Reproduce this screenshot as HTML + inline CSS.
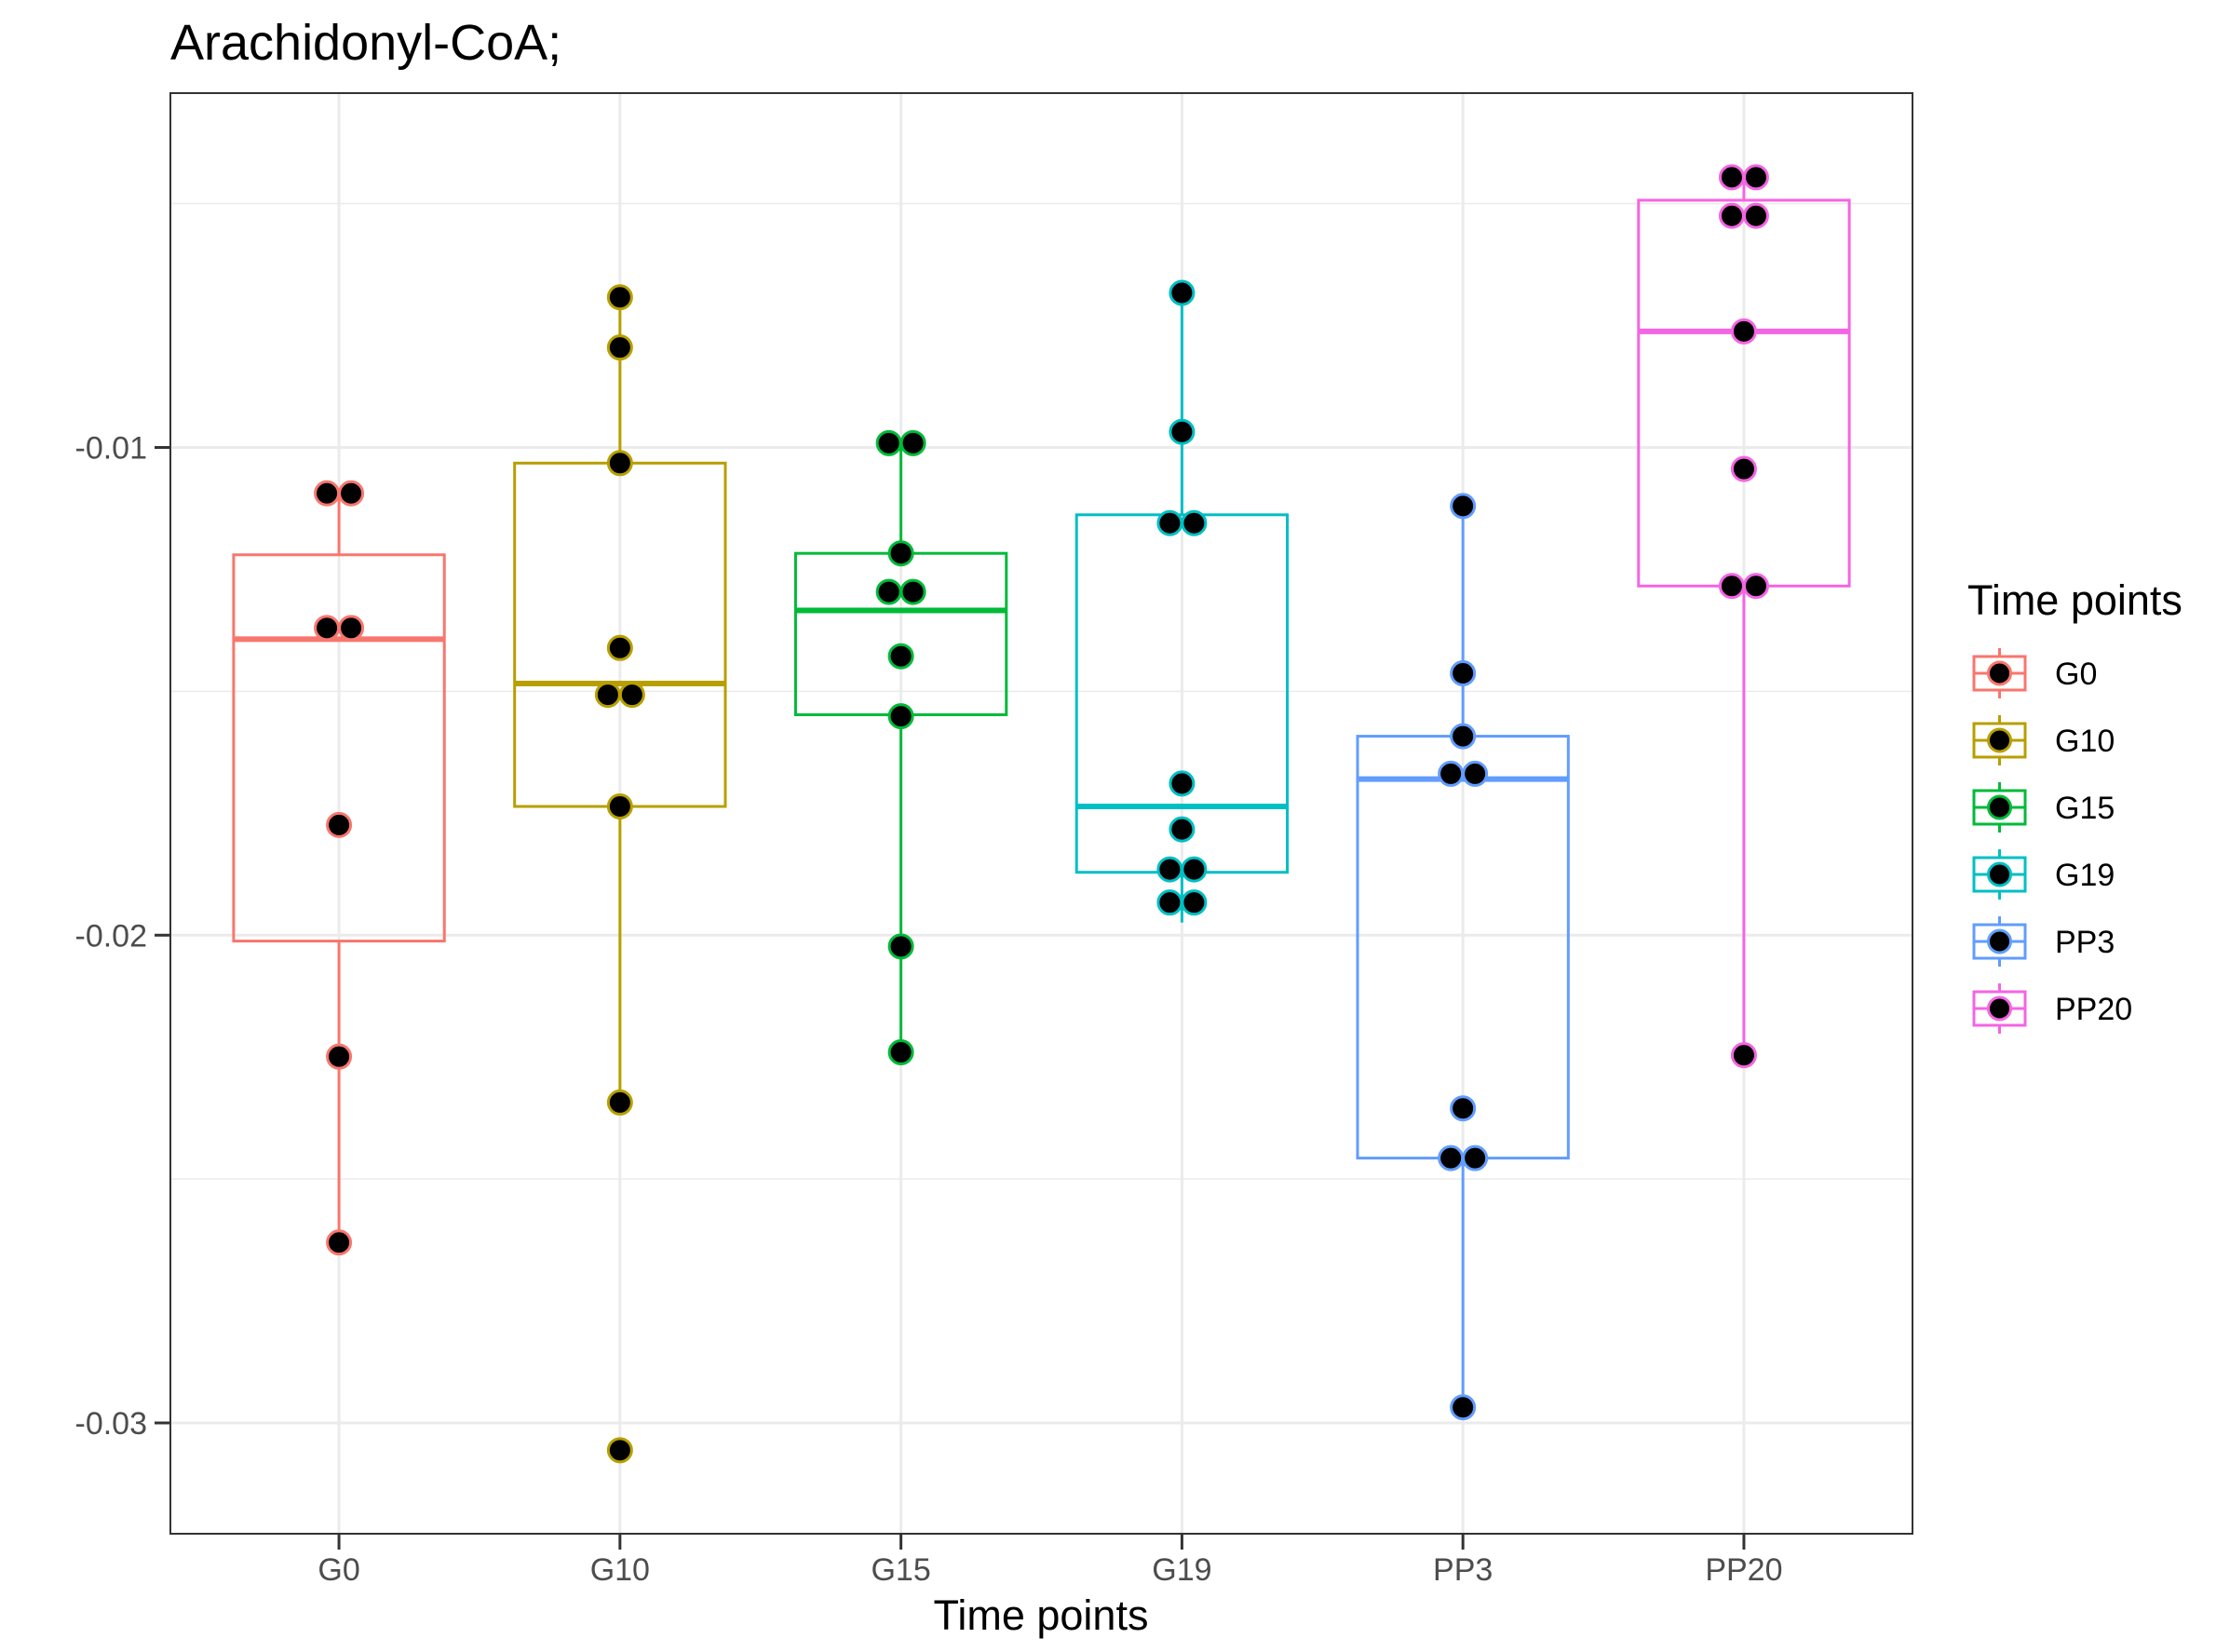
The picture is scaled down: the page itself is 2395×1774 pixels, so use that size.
<!DOCTYPE html>
<html><head><meta charset="utf-8"><style>
html,body{margin:0;padding:0;background:#fff}
svg{display:block;font-family:"Liberation Sans",Arial,sans-serif}
</style></head><body>
<svg id="chart" width="2395" height="1774" viewBox="0 0 2395 1774" xmlns="http://www.w3.org/2000/svg">
<text x="183" y="64" font-size="54" fill="#000">Arachidonyl-CoA;</text>
<g id="grid"></g>
<g id="boxes"></g>
<g id="dots"></g>
<rect x="183" y="100" width="1871" height="1547" fill="none" stroke="#333" stroke-width="2"/>
<g id="axes"></g>
<text x="1118" y="1750" font-size="45" text-anchor="middle" fill="#000">Time points</text>
<g id="legend">
<text x="2113" y="660" font-size="45" fill="#000">Time points</text>
</g>
</svg>
<script>
const categories = ["G0","G10","G15","G19","PP3","PP20"];
const colors = ["#F8766D","#B79F00","#00BA38","#00BFC4","#619CFF","#F564E3"];
const yTicks = [-0.01,-0.02,-0.03];
const yTickLabels = ["-0.01","-0.02","-0.03"];
const yMinor = [-0.005,-0.015,-0.025];
// points per group: [value, count]
const pointsG0 = [[-0.01094,2],[-0.01370,2],[-0.01774,1],[-0.02249,1],[-0.02630,1]];
const pointsG10 = [[-0.00692,1],[-0.00795,1],[-0.01032,1],[-0.01411,1],[-0.01507,2],[-0.01736,1],[-0.02343,1],[-0.03056,1]];
const pointsG15 = [[-0.00991,2],[-0.01217,1],[-0.01296,2],[-0.01428,1],[-0.01551,1],[-0.02023,1],[-0.02240,1]];
const pointsG19 = [[-0.00683,1],[-0.00968,1],[-0.01155,2],[-0.01689,1],[-0.01783,1],[-0.01865,2],[-0.01933,2]];
const pointsPP3 = [[-0.01120,1],[-0.01463,1],[-0.01592,1],[-0.01669,2],[-0.02355,1],[-0.02457,2],[-0.02968,1]];
const pointsPP20 = [[-0.00446,2],[-0.00525,2],[-0.00762,1],[-0.01044,1],[-0.01284,2],[-0.02246,1]];
// box stats: [lowerWhisker, q1, median, q3, upperWhisker]
const statsG0 = [-0.02630,-0.02012,-0.01393,-0.01220,-0.01094];
const statsG10 = [-0.02343,-0.01736,-0.01484,-0.01032,-0.00692];
const statsG15 = [-0.02240,-0.01548,-0.01334,-0.01217,-0.00991];
const statsG19 = [-0.01974,-0.01871,-0.01736,-0.01138,-0.00683];
const statsPP3 = [-0.02968,-0.02457,-0.01680,-0.01592,-0.01120];
const statsPP20 = [-0.02246,-0.01284,-0.00762,-0.00493,-0.00446];

const allPoints=[pointsG0,pointsG10,pointsG15,pointsG19,pointsPP3,pointsPP20];
const allStats=[statsG0,statsG10,statsG15,statsG19,statsPP3,statsPP20];
const NS="http://www.w3.org/2000/svg";
const L=183,R=2054,T=100,B=1647;
const yDom=[-0.032272,-0.002734];
function y(v){return B-(v-yDom[0])/(yDom[1]-yDom[0])*(B-T);}
const step=(R-L)/(categories.length-1+1.2);
function x(i){return L+step*(i+0.6);}
function mk(tag,attrs,parent){const e=document.createElementNS(NS,tag);for(const k in attrs)e.setAttribute(k,attrs[k]);parent.appendChild(e);return e;}
const grid=document.getElementById('grid'),boxes=document.getElementById('boxes'),dots=document.getElementById('dots'),axes=document.getElementById('axes'),legend=document.getElementById('legend');
yMinor.forEach(v=>{const e=mk('line',{x1:L,x2:R,y1:y(v),y2:y(v),stroke:'#ebebeb','stroke-width':1.5},grid);

});
yTicks.forEach((v,i)=>{const e=mk('line',{x1:L,x2:R,y1:y(v),y2:y(v),stroke:'#ebebeb','stroke-width':3},grid);


const t=mk('line',{x1:L-17,x2:L,y1:y(v),y2:y(v),stroke:'#333','stroke-width':3},axes);


const lb=mk('text',{x:L-25,y:y(v)+12,'font-size':34,'text-anchor':'end',fill:'#4d4d4d'},axes);lb.textContent=yTickLabels[i];

});
categories.forEach((c,i)=>{const cx=x(i);
const g=mk('line',{x1:cx,x2:cx,y1:T,y2:B,stroke:'#ebebeb','stroke-width':3},grid);


const t=mk('line',{x1:cx,x2:cx,y1:B,y2:B+17,stroke:'#333','stroke-width':3},axes);


const lb=mk('text',{x:cx,y:1697,'font-size':34,'text-anchor':'middle',fill:'#4d4d4d'},axes);lb.textContent=c;


const s=allStats[i],col=colors[i],hw=step*0.375;
const bg=mk('g',{},boxes);


mk('line',{x1:cx,x2:cx,y1:y(s[3]),y2:y(s[4]),stroke:col,'stroke-width':3},bg);
mk('line',{x1:cx,x2:cx,y1:y(s[0]),y2:y(s[1]),stroke:col,'stroke-width':3},bg);
mk('rect',{x:cx-hw,y:y(s[3]),width:2*hw,height:y(s[1])-y(s[3]),fill:'none',stroke:col,'stroke-width':3},bg);
mk('line',{x1:cx-hw,x2:cx+hw,y1:y(s[2]),y2:y(s[2]),stroke:col,'stroke-width':6},bg);
allPoints[i].forEach(p=>{const n=p[1];for(let k=0;k<n;k++){const dx=(k-(n-1)/2)*26;
const d=mk('circle',{cx:cx+dx,cy:y(p[0]),r:12.5,fill:'#000',stroke:col,'stroke-width':3},dots);

}});
const ly=723+72*i;
const lg=mk('g',{},legend);


mk('line',{x1:2147.5,x2:2147.5,y1:ly-27,y2:ly+27,stroke:col,'stroke-width':3},lg);
mk('rect',{x:2120,y:ly-18,width:55,height:36,fill:'#fff',stroke:col,'stroke-width':3},lg);
mk('line',{x1:2120,x2:2175,y1:ly,y2:ly,stroke:col,'stroke-width':3},lg);
mk('circle',{cx:2147.5,cy:ly,r:12,fill:'#000',stroke:col,'stroke-width':3},lg);
const lt=mk('text',{x:2207,y:ly+12,'font-size':34,fill:'#000'},lg);lt.textContent=c;
});
</script>
</body></html>
